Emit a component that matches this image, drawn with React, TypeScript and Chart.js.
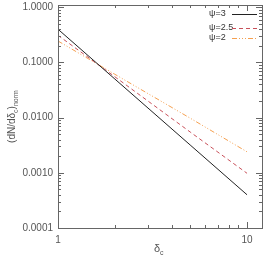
import React, { useEffect, useRef } from "react";
import { Chart, registerables } from "chart.js";

Chart.register(...registerables);

const deltaC = [1, 2, 5, 10];
const psi3 = [0.4, 0.05, 0.0032, 0.0004];
const psi25 = [0.31, 0.055, 0.0055, 0.00098];
const psi2 = [0.245, 0.061, 0.0098, 0.0024];
const seriesNames = ["\u03c8=3", "\u03c8=2.5", "\u03c8=2"];
const xTickValues = [1, 2, 3, 4, 5, 6, 7, 8, 9, 10];
const xTickLabels = ["1", "", "", "", "", "", "", "", "", "10"];
const yMajorValues = [0.0001, 0.001, 0.01, 0.1, 1];
const yTickLabels = ["0.0001", "0.0010", "0.0100", "0.1000", "1.0000"];

const FONT = "Liberation Sans, Arial, sans-serif";
const AXIS = "#666";
const TEXT = "#555";
const colors = ["#222222", "#c8505a", "#f5a050"];
const dashes = [[], [4, 3], [5, 2, 1, 2, 1, 2, 1, 2]];

function yTicksAll() {
  const out: number[] = [];
  for (let e = -4; e <= 0; e++) {
    const base = Math.pow(10, e);
    for (let m = 1; m <= 9; m++) {
      const v = m * base;
      if (v <= 1.0000001) out.push(v);
      if (e === 0) break;
    }
  }
  return out;
}

const decorPlugin = {
  id: "decor",
  afterDraw(chart: any) {
    const ctx = chart.ctx;
    const { left, right, top, bottom } = chart.chartArea;
    const xs = chart.scales.x;
    const ys = chart.scales.y;
    ctx.save();
    ctx.strokeStyle = AXIS;
    ctx.lineWidth = 1;
    ctx.setLineDash([]);
    ctx.strokeRect(Math.round(left) + 0.5, Math.round(top) + 0.5, Math.round(right - left), Math.round(bottom - top));
    ctx.beginPath();
    for (const v of xTickValues) {
      const px = Math.round(xs.getPixelForValue(v)) + 0.5;
      const major = v === 1 || v === 10;
      const len = major ? 6 : 3;
      ctx.moveTo(px, bottom);
      ctx.lineTo(px, bottom - len);
      ctx.moveTo(px, top);
      ctx.lineTo(px, top + len);
    }
    for (const v of yTicksAll()) {
      const py = Math.round(ys.getPixelForValue(v)) + 0.5;
      const major = yMajorValues.some((m) => Math.abs(m - v) / m < 1e-6);
      const len = major ? 6 : 3;
      ctx.moveTo(left, py);
      ctx.lineTo(left + len, py);
      ctx.moveTo(right, py);
      ctx.lineTo(right - len, py);
    }
    ctx.stroke();

    // x title
    ctx.fillStyle = TEXT;
    ctx.textBaseline = "alphabetic";
    ctx.textAlign = "left";
    ctx.font = `11px ${FONT}`;
    const xt = (left + right) / 2 - 6;
    ctx.fillText("\u03b4", xt, 252);
    const dw = ctx.measureText("\u03b4").width;
    ctx.font = `7px ${FONT}`;
    ctx.fillText("c", xt + dw, 255);

    // y title
    ctx.save();
    ctx.translate(12, (top + bottom) / 2);
    ctx.rotate(-Math.PI / 2);
    const parts: [string, boolean][] = [["(dN/d\u03b4", false], ["c", true], [")", false], ["norm", true]];
    let total = 0;
    for (const [t, sub] of parts) {
      ctx.font = sub ? `7px ${FONT}` : `10px ${FONT}`;
      total += ctx.measureText(t).width;
    }
    let cx = -total / 2;
    for (const [t, sub] of parts) {
      ctx.font = sub ? `7px ${FONT}` : `10px ${FONT}`;
      ctx.fillText(t, cx, sub ? 6 : 3);
      cx += ctx.measureText(t).width;
    }
    ctx.restore();

    // legend
    const ly = [14, 28, 38];
    ctx.font = `9px ${FONT}`;
    ctx.textBaseline = "middle";
    for (let i = 0; i < seriesNames.length; i++) {
      ctx.fillStyle = "#333";
      ctx.fillText(seriesNames[i], 209, ly[i]);
      ctx.beginPath();
      ctx.strokeStyle = colors[i];
      ctx.setLineDash(dashes[i]);
      ctx.moveTo(232, ly[i] + 0.5);
      ctx.lineTo(257, ly[i] + 0.5);
      ctx.stroke();
    }
    ctx.restore();
  },
};

export default function App() {
  const ref = useRef<HTMLCanvasElement | null>(null);
  useEffect(() => {
    if (!ref.current) return;
    const data = [psi3, psi25, psi2];
    const chart = new Chart(ref.current, {
      type: "line",
      data: {
        datasets: data.map((vals, i) => ({
          label: seriesNames[i],
          data: deltaC.map((x, j) => ({ x, y: vals[j] })),
          borderColor: colors[i],
          borderWidth: 1,
          borderDash: dashes[i],
          pointRadius: 0,
          fill: false,
          tension: 0,
        })),
      },
      options: {
        animation: false,
        responsive: false,
        maintainAspectRatio: false,
        layout: { padding: { top: 5, right: 4, left: 0, bottom: 0 } },
        plugins: { legend: { display: false }, tooltip: { enabled: false } },
        scales: {
          x: {
            type: "logarithmic",
            min: 1,
            max: 12,
            grid: { display: false, drawTicks: false },
            border: { display: false },
            afterBuildTicks: (s: any) => {
              s.ticks = xTickValues.map((v) => ({ value: v }));
            },
            afterFit: (s: any) => {
              s.height = 32;
              s.paddingLeft = 0;
              s.paddingRight = 0;
            },
            ticks: {
              autoSkip: false,
              maxRotation: 0,
              padding: 6,
              color: TEXT,
              font: { family: FONT, size: 10 },
              callback: (_v: any, i: number) => xTickLabels[i],
            },
          },
          y: {
            type: "logarithmic",
            min: 0.0001,
            max: 1.1,
            grid: { display: false, drawTicks: false },
            border: { display: false },
            afterBuildTicks: (s: any) => {
              s.ticks = yMajorValues.map((v) => ({ value: v }));
            },
            afterFit: (s: any) => {
              s.width = 58;
              s.paddingTop = 0;
              s.paddingBottom = 0;
            },
            ticks: {
              autoSkip: false,
              padding: 5,
              color: TEXT,
              font: { family: FONT, size: 10 },
              callback: (_v: any, i: number) => yTickLabels[i],
            },
          },
        },
      },
      plugins: [decorPlugin],
    });
    return () => chart.destroy();
  }, []);
  return (
    <div style={{ position: "fixed", left: 0, top: 0, width: 266, height: 260, background: "#fff" }}>
      <canvas ref={ref} width={266} height={260} style={{ width: 266, height: 260 }} />
    </div>
  );
}
